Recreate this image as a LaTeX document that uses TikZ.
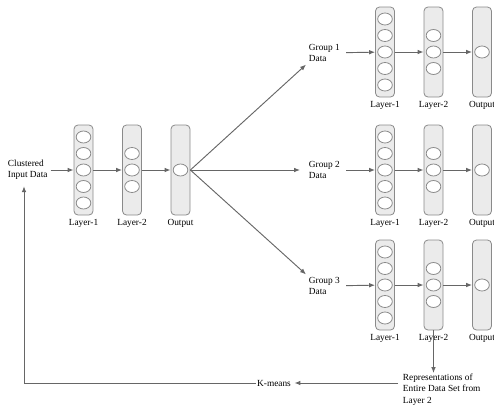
\documentclass[tikz,border=0pt]{standalone}
\usepackage{fontspec}
\setmainfont{Liberation Serif}
\usetikzlibrary{arrows.meta, positioning, shapes.geometric}
\definecolor{linegray}{HTML}{666666}
\definecolor{boxgray}{HTML}{8A8A8A}
\definecolor{boxfill}{HTML}{EBEBEB}
\tikzset{
    layer/.style={draw=boxgray, fill=boxfill, rounded corners=3pt, minimum width=14.25pt, minimum height=67.5pt, inner sep=0pt, line width=0.6pt}, % a layer column
    unit/.style={ellipse, draw=boxgray, fill=white, minimum width=11pt, minimum height=9pt, inner sep=0pt, line width=0.6pt}, % one neuron
    lbl/.style={font=\fontsize{7}{8.6}\selectfont, inner sep=0.5pt, align=left},
    flow/.style={draw=linegray, line width=0.7pt, -{Latex[length=4.5pt, width=3.5pt]}}
}
% one small network: name, x of first layer, y of centre line
\newcommand{\netcols}[3]{%
    \node[layer] (#1-l1) at (#2,#3) {};
    \node[layer] (#1-l2) at (#2+48.5,#3) {};
    \node[layer] (#1-out) at (#2+97,#3) {};
    \foreach \k/\dy in {1/-33,2/-16.5,3/0,4/16.5,5/33} {\node[unit] (#1-l1-\k) at (#2,#3+\dy) {};}
    \foreach \k/\dy in {1/-16.5,2/0,3/16.5} {\node[unit] (#1-l2-\k) at (#2+48.5,#3+\dy) {};}
    \node[unit] (#1-out-1) at (#2+97,#3) {};
    \node[lbl, below=2pt of #1-l1] (#1-n1) {Layer-1};
    \node[lbl, below=2pt of #1-l2] (#1-n2) {Layer-2};
    \node[lbl, below=2pt of #1-out] (#1-n3) {Output};
    \draw[flow] (#1-l1) -- (#1-l2);
    \draw[flow] (#1-l2) -- (#1-out);
}

\begin{document}
\begin{tikzpicture}[x=0.75pt, y=-0.75pt]
    \useasboundingbox (0,0) rectangle (494,408);

    \netcols{m}{83.5}{170}
    \netcols{ga}{385}{52}
    \netcols{gb}{385}{170}
    \netcols{gc}{385}{285}

    \node[lbl, anchor=west] (inp) at (7,170) {Clustered\\Input Data};
    \node[lbl, anchor=west] (ga-in) at (308,53) {Group 1\\Data};
    \node[lbl, anchor=west] (gb-in) at (308,170) {Group 2\\Data};
    \node[lbl, anchor=west] (gc-in) at (308,286) {Group 3\\Data};
    \node[lbl, anchor=north west] (rep) at (402,373) {Representations of\\Entire Data Set from\\Layer 2};
    \node[lbl] (km) at (274,383) {K-means};
    \coordinate (turn) at (24,383);

    \draw[flow, shorten <=1.5pt] (inp) -- (m-l1);
    \draw[flow, shorten <=4pt] (ga-in) -- (ga-l1);
    \draw[flow, shorten <=4pt] (gb-in) -- (gb-l1);
    \draw[flow, shorten <=4pt] (gc-in) -- (gc-l1);

    \draw[flow, shorten >=2pt] (m-out.east) -- (ga-in.south west);
    \draw[flow, shorten >=6pt] (m-out.east) -- (gb-in.west);
    \draw[flow, shorten >=2pt] (m-out.east) -- (gc-in.north west);

    \draw[flow] (gc-l2) -- (gc-l2 |- rep.north);
    \draw[flow, shorten <=3pt, shorten >=2pt] (rep.west |- km) -- (km);
    \draw[flow, shorten >=4pt] (km) -- (turn) -- (turn |- inp.south);
\end{tikzpicture}
\end{document}
